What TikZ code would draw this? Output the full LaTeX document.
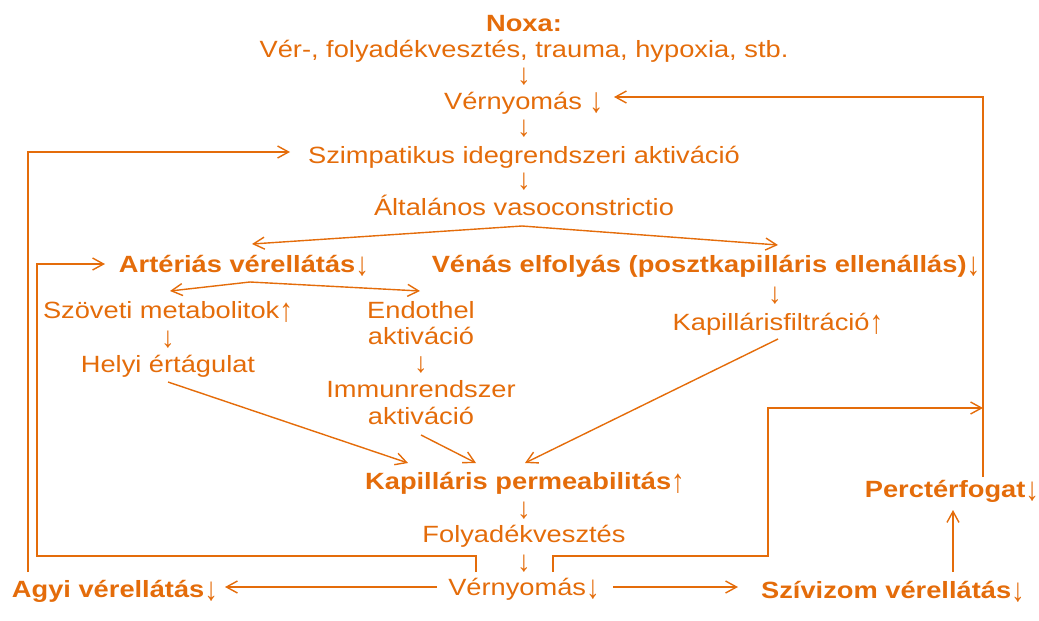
\documentclass[tikz,border=0pt]{standalone}
\usepackage{fontspec}
\usepackage{graphicx}
\setmainfont{Liberation Sans}[FakeStretch=1.16]
\usetikzlibrary{arrows.meta,calc}
\definecolor{org}{HTML}{E46C0A}
\newcommand\dnarr{\raisebox{-3pt}{\scalebox{1}[1.4]{\mdseries↓}}}
\newcommand\uparr{\raisebox{-3pt}{\scalebox{1}[1.4]{\mdseries↑}}}
\newcommand\bigdn{\raisebox{-3pt}{\scalebox{1.05}[1.5]{\bfseries↓}}}
\begin{document}
\begin{tikzpicture}[x=1pt,y=-1pt,
  every node/.style={inner sep=0pt, outer sep=0pt, text=org, font=\fontsize{23.5}{28}\selectfont},
  t/.style={anchor=base},
  b/.style={anchor=base, font=\fontsize{23.5}{28}\selectfont\bfseries},
  ar/.style={anchor=center},
  conn/.style={draw=org, line width=1.4pt, -{Straight Barb[length=11pt,width=12pt]}}]
\useasboundingbox (0,0) rectangle (1039,621);
\node[b] (noxa) at (524,31) {Noxa:};
\node[t] (cause) at (524,57) {Vér-, folyadékvesztés, trauma, hypoxia, stb.};
\node[ar] (d1) at (524,77) {\scalebox{1}[1.25]{↓}};
\node[t] (vny1) at (524,109) {Vérnyomás \bigdn};
\node[ar] (d2) at (524,129) {\scalebox{1}[1.25]{↓}};
\node[t] (szimp) at (524,163) {Szimpatikus idegrendszeri aktiváció};
\node[ar] (d3) at (524,182) {\scalebox{1}[1.25]{↓}};
\node[t] (alt) at (524,215) {Általános vasoconstrictio};
\node[b] (art) at (244,272) {Artériás vérellátás\dnarr};
\node[b] (ven) at (706,272) {Vénás elfolyás (posztkapilláris ellenállás)\dnarr};
\node[t] (szov) at (168,318) {Szöveti metabolitok\uparr};
\node[ar] (d4) at (168,340) {\scalebox{1}[1.25]{↓}};
\node[t] (helyi) at (168,372) {Helyi értágulat};
\node[t] (endo1) at (421,318) {Endothel};
\node[t] (endo2) at (421,344) {aktiváció};
\node[ar] (d5) at (421,365) {\scalebox{1}[1.2]{↓}};
\node[t] (imm1) at (421,397) {Immunrendszer};
\node[t] (imm2) at (421,424) {aktiváció};
\node[ar] (d6) at (775,296) {\scalebox{1}[1.25]{↓}};
\node[t] (filt) at (778,330) {Kapillárisfiltráció\uparr};
\node[b] (perm) at (525,489) {Kapilláris permeabilitás\uparr};
\node[ar] (d7) at (524,511) {\scalebox{1}[1.25]{↓}};
\node[t] (foly) at (524,542) {Folyadékvesztés};
\node[ar] (d8) at (524,564) {\scalebox{1}[1.25]{↓}};
\node[t] (vny2) at (524,595) {Vérnyomás\dnarr};
\node[b] (agyi) at (115,597) {Agyi vérellátás\dnarr};
\node[b] (sziv) at (893,598) {Szívizom vérellátás\dnarr};
\node[b] (perc) at (952,497) {Perctérfogat\dnarr};
% connectors
\draw[conn] ($(alt.base)+(-2,11)$) -- ($(art.base)+(8,-28)$);
\draw[conn] ($(alt.base)+(-2,11)$) -- ($(ven.base)+(72,-27)$);
\draw[conn] ($(art.base)+(6,10)$) -- ($(szov.base)+(2,-27)$);
\draw[conn] ($(art.base)+(6,10)$) -- ($(endo1.base)+(-1,-27)$);
\draw[conn] ($(helyi.base)+(0,10)$) -- ($(perm.base)+(-117,-26)$);
\draw[conn] ($(imm2.base)+(0,11)$) -- ($(perm.base)+(-49,-26)$);
\draw[conn] ($(filt.base)+(0,9)$) -- ($(perm.base)+(0,-26)$);
\draw[conn] ($(vny2.base)+(-87,-8)$) -- ($(agyi.base)+(110,-10)$);
\draw[conn] ($(vny2.base)+(89,-8)$) -- ($(sziv.base)+(-155,-11)$);
\draw[conn] ($(sziv.base)+(60,-26)$) -- ($(perc.base)+(1,13)$);
\draw[conn] ($(perc.base)+(31,-20)$) |- ($(vny1.base)+(90,-12)$);
\draw[conn] ($(agyi.base)+(-87,-25)$) |- ($(szimp.base)+(-234,-11)$);
\coordinate (lb) at (37,556);
\draw[conn] ($(vny2.base)+(-48,-23)$) |- (lb) |- ($(art.base)+(-139,-8)$);
\coordinate (rb) at (768,556);
\coordinate (merge) at (983,408);
\draw[conn] ($(vny2.base)+(29,-23)$) |- (rb) |- (merge);
\end{tikzpicture}
\end{document}
